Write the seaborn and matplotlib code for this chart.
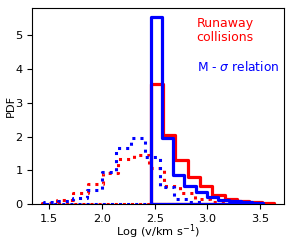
import numpy as np
import pandas as pd
import matplotlib
matplotlib.use("Agg")
import matplotlib.pyplot as plt
import seaborn as sns

# Solid histograms (runaway collisions = red, M-sigma = blue)
red_solid_edges = [2.46, 2.577, 2.694, 2.811, 2.928, 3.045, 3.162, 3.279, 3.396, 3.513, 3.63]
red_solid_pdf = [3.56, 2.05, 1.32, 0.81, 0.54, 0.27, 0.15, 0.08, 0.05, 0.03]
blue_solid_edges = [2.46, 2.567, 2.674, 2.781, 2.888, 2.995, 3.102, 3.209, 3.316, 3.423, 3.53]
blue_solid_pdf = [5.53, 1.95, 0.86, 0.55, 0.35, 0.20, 0.12, 0.08, 0.05, 0.03]

# Dotted histograms
red_dot_edges = [1.43, 1.575, 1.72, 1.865, 2.01, 2.155, 2.30, 2.445, 2.59, 2.735, 2.88, 3.025, 3.17]
red_dot_pdf = [0.04, 0.12, 0.32, 0.61, 0.92, 1.33, 1.45, 1.08, 0.55, 0.32, 0.14, 0.06]
blue_dot_edges = [1.45, 1.587, 1.724, 1.861, 1.998, 2.135, 2.272, 2.409, 2.546, 2.683, 2.82, 2.957]
blue_dot_pdf = [0.05, 0.08, 0.17, 0.43, 0.96, 1.65, 1.95, 1.40, 0.52, 0.15, 0.06]

xticks = [1.5, 2.0, 2.5, 3.0, 3.5]
yticks = [0, 1, 2, 3, 4, 5]

plt.rcParams['font.family'] = ['DejaVu Sans']
fig = plt.figure(figsize=(2.93, 2.43), dpi=100)
ax = fig.add_axes([0.110, 0.160, 0.860, 0.806])


def step_hist(edges, pdf, color, ls, lw, z):
    e = [float(v) for v in edges]
    mids = [(a + b) / 2 for a, b in zip(e[:-1], e[1:])]
    df = pd.DataFrame({"v": mids, "w": list(pdf)})
    n_before = len(ax.lines)
    sns.histplot(data=df, x="v", weights="w", bins=e, stat="count", element="step",
                 fill=False, color=color, linestyle=ls, linewidth=lw, ax=ax, zorder=z)
    # close the step outline down to the baseline, as matplotlib's step histogram does
    for line in ax.lines[n_before:]:
        x, y = line.get_data()
        x = np.concatenate([[x[0]], x, [x[-1], x[0]]])
        y = np.concatenate([[0.0], y, [0.0, 0.0]])
        line.set_data(x, y)
        line.set_clip_on(True)


step_hist(red_dot_edges, red_dot_pdf, "#ff0000", ":", 2.2, 2)
step_hist(blue_dot_edges, blue_dot_pdf, "#0000ff", ":", 2.2, 3)
step_hist(red_solid_edges, red_solid_pdf, "#ff0000", "-", 2.3, 4)
step_hist(blue_solid_edges, blue_solid_pdf, "#0000ff", "-", 2.3, 5)

ax.set_xlim(1.338, 3.728)
ax.set_ylim(0, 5.8)
ax.set_xticks(xticks)
ax.set_yticks(yticks)
ax.tick_params(labelsize=8.2, length=3.5, width=0.8)
ax.set_xlabel(r"Log (v/km s$^{-1}$)", fontsize=8.2, labelpad=-1)
ax.set_ylabel("PDF", fontsize=8.2, labelpad=-0.5)

ax.text(0.652, 0.955, "Runaway\ncollisions", color="#ff0000", fontsize=9,
        transform=ax.transAxes, ha="left", va="top", linespacing=1.05)
ax.text(0.652, 0.68, r"M - $\sigma$ relation", color="#0000ff", fontsize=8.8,
        transform=ax.transAxes, ha="left", va="baseline")

fig.savefig("out.png", dpi=100)
